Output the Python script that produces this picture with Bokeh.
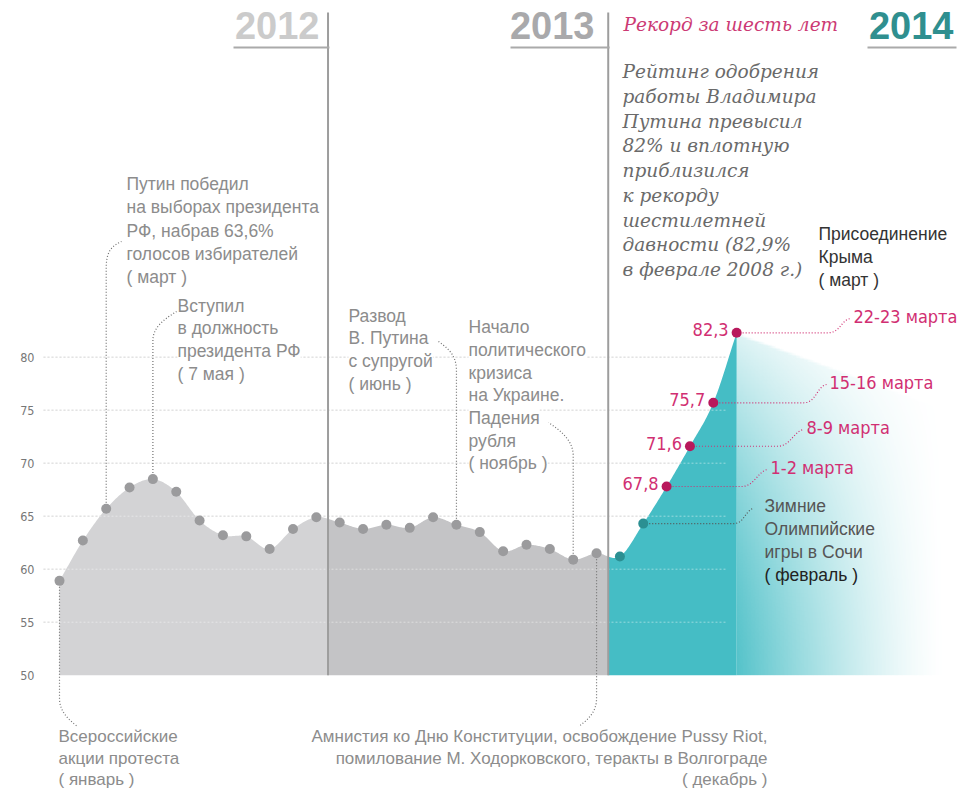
import numpy as np
from bokeh.plotting import figure
from bokeh.models import Range1d, FixedTicker, ColumnDataSource
from bokeh.core.properties import value
from bokeh.embed import file_html
from bokeh.resources import INLINE

# ---------------- data ----------------
months = ["янв", "фев", "мар", "апр", "май", "июн", "июл", "авг", "сен", "окт", "ноя", "дек"]
rating_2012 = [58.9, 62.7, 65.7, 67.7, 68.5, 67.3, 64.6, 63.2, 63.1, 61.9, 63.8, 64.9]
rating_2013 = [64.4, 63.8, 64.2, 63.9, 64.9, 64.2, 63.5, 61.7, 62.3, 61.9, 60.9, 61.5]
months_2014 = ["янв", "фев"]
rating_2014 = [61.2, 64.3]
march_weeks = ["1-2 марта", "8-9 марта", "15-16 марта", "22-23 марта"]
rating_march = [67.8, 71.6, 75.7, 82.3]
march_labels = ["67,8", "71,6", "75,7", "82,3"]
y_ticks = [50, 55, 60, 65, 70, 75, 80]
years = ["2012", "2013", "2014"]

values = rating_2012 + rating_2013 + rating_2014 + rating_march
idx = np.arange(len(values), dtype=float)
n12, n13 = len(rating_2012), len(rating_2013)
b1 = n12 - 0.5               # 2012 | 2013 divider
b2 = n12 + n13 - 0.5         # 2013 | 2014 divider
i_feb = n12 + n13 + 1
i_last = len(values) - 1
base = y_ticks[0]

# ---------------- pixel <-> data helpers (layout only) ----------------
PX0, DX, PY80, DY = 59.0, 23.35, 356.7, 10.6
def X(px): return (np.asarray(px, float) - PX0) / DX
def Y(py): return 80 - (np.asarray(py, float) - PY80) / DY
def PX(i): return PX0 + DX * i
def PY(v): return PY80 + (80 - v) * DY

FW, FH = 957, 792
p = figure(width=FW, height=FH, output_backend="svg", toolbar_location=None,
           x_range=Range1d(float(X(40)), float(X(FW))),
           y_range=Range1d(float(Y(FH)), float(Y(0))),
           x_axis_type=None, min_border_left=40, min_border_right=0,
           min_border_top=0, min_border_bottom=0)
p.outline_line_color = None
p.ygrid.visible = False
COND = "DejaVu Sans Condensed"
p.yaxis.ticker = FixedTicker(ticks=y_ticks)
p.yaxis.axis_line_color = None
p.yaxis.major_tick_line_color = None
p.yaxis.minor_tick_line_color = None
p.yaxis.major_tick_out = 0
p.yaxis.major_label_standoff = 6
p.yaxis.major_label_text_font = COND
p.yaxis.major_label_text_font_size = "12.5px"
p.yaxis.major_label_text_color = "#777777"

# grid (under areas)
gt = y_ticks[1:]
p.segment(x0=[float(X(43))] * len(gt), x1=[float(X(727))] * len(gt), y0=gt, y1=gt,
          line_color="#c6c6c6", line_dash="2 2", line_width=1)

# ---------------- smooth area ----------------
def smooth(xs, ys, n=24):
    xs = np.asarray(xs, float); ys = np.asarray(ys, float)
    m = np.zeros_like(ys)
    m[1:-1] = (ys[2:] - ys[:-2]) / 2
    m[0] = ys[1] - ys[0]; m[-1] = ys[-1] - ys[-2]
    ox, oy = [], []
    t = np.linspace(0, 1, n, endpoint=False)
    h00 = 2*t**3 - 3*t**2 + 1; h10 = t**3 - 2*t**2 + t
    h01 = -2*t**3 + 3*t**2; h11 = t**3 - t**2
    for i in range(len(xs) - 1):
        oy.append(h00*ys[i] + h10*m[i] + h01*ys[i+1] + h11*m[i+1])
        ox.append(xs[i] + t*(xs[i+1] - xs[i]))
    ox.append([xs[-1]]); oy.append([ys[-1]])
    return np.concatenate(ox), np.concatenate(oy)

sx, sy = smooth(idx, values)
def piece(a, b):
    mk = (sx > a) & (sx < b)
    xs = np.concatenate([[a], sx[mk], [b]])
    ys = np.concatenate([[np.interp(a, sx, sy)], sy[mk], [np.interp(b, sx, sy)]])
    return xs, ys

for (a, b), col in [((0, b1), "#d3d3d5"), ((b1, b2), "#c4c4c6"), ((b2, i_last), "#45bdc5")]:
    xs, ys = piece(a, b)
    p.varea(x=xs, y1=[base] * len(xs), y2=ys, fill_color=col)

# fading tail after the last value
fx0, fx1 = float(i_last), float(X(945))
fy0, fy1 = float(base), 84.0
W, H = 260, 260
xi = fx0 + (np.arange(W) + 0.5) / W * (fx1 - fx0)
vi = fy0 + (np.arange(H) + 0.5) / H * (fy1 - fy0)
top = values[-1] - 0.8 * (xi - fx0)
XX, VV = np.meshgrid(xi, vi)
TT = np.broadcast_to(top, XX.shape)
ax = 0.92 * (1 - (XX - fx0) / (fx1 - fx0)) ** 1.4
rel = np.clip((VV - base) / (TT - base), 0, 1)
av = 1 - 0.8 * rel ** 1.6
edge = np.clip((TT - VV) / 0.3, 0, 1)
alpha = ax * av * edge
img = np.zeros((H, W), dtype=np.uint32)
view = img.view(dtype=np.uint8).reshape((H, W, 4))
view[..., 0] = 69; view[..., 1] = 189; view[..., 2] = 197
view[..., 3] = (np.clip(alpha, 0, 1) * 255).astype(np.uint8)
p.image_rgba(image=[img], x=fx0, y=fy0, dw=fx1 - fx0, dh=fy1 - fy0)

# grid over fills (lighter)
p.segment(x0=[float(X(43))] * len(gt), x1=[float(X(727))] * len(gt), y0=gt, y1=gt,
          line_color="white", line_alpha=0.45, line_dash="2 2", line_width=1)

# year dividers and underlines
p.segment(x0=[b1, b2], x1=[b1, b2], y0=[base, base], y1=[float(Y(12))] * 2,
          line_color="#9d9d9d", line_width=2)
p.segment(x0=[float(X(233)), float(X(510)), float(X(867))],
          x1=[b1 + 0.06, b2 + 0.06, float(X(956))],
          y0=[float(Y(47))] * 3, y1=[float(Y(47))] * 3,
          line_color="#aaaaaa", line_width=2)

# ---------------- leaders ----------------
def bez(p0, p1, p2, p3, n=30):
    t = np.linspace(0, 1, n)[:, None]
    P = [np.array(q, float) for q in (p0, p1, p2, p3)]
    return (1-t)**3*P[0] + 3*(1-t)**2*t*P[1] + 3*(1-t)*t**2*P[2] + t**3*P[3]

def leader(i, corner, c1, c2, end, color="#707070"):
    start = np.array([[PX(i), PY(values[i])]])
    pts = np.vstack([start, bez(corner, c1, c2, end)])
    p.line(X(pts[:, 0]), Y(pts[:, 1]), line_color=color, line_dash="1 2", line_width=1.2)

leader(2, (PX(2), 268), (PX(2), 252), (110, 246), (121, 241))
leader(4, (PX(4), 340), (PX(4), 326), (165, 318), (176, 311))
leader(17, (PX(17), 370), (PX(17), 355), (448, 348), (438, 341))
leader(22, (PX(22), 455), (PX(22), 440), (560, 430), (548, 422))
leader(0, (PX(0), 698), (PX(0), 711), (68, 719), (77, 726))
leader(n12 + n13 - 1, (PX(23), 698), (PX(23), 711), (588, 719), (578, 726))
leader(i_feb, (733, PY(values[i_feb])), (743, PY(values[i_feb])), (744, 512), (752, 508), "#555555")

pink_ends = [(767, 469), (803, 429), (826, 384), (850, 318)]
pink_corners = [741, 777, 803, 827]
for k, (ex, ey) in enumerate(pink_ends):
    i = i_last - 3 + k
    py = PY(values[i])
    leader(i, (pink_corners[k], py), (pink_corners[k] + 13, py), (ex - 10, ey + 2), (ex, ey), "#d12f72")

# ---------------- dots ----------------
gi = list(range(n12 + n13))
p.scatter(idx[gi], [values[i] for i in gi], size=10, fill_color="#9b9b9d", line_color=None)
ti = [n12 + n13, i_feb]
p.scatter(idx[ti], [values[i] for i in ti], size=10, fill_color="#2b8f92", line_color=None)
mi = list(range(i_last - 3, i_last + 1))
p.scatter(idx[mi], rating_march, size=10, fill_color="#b8185c", line_color=None)

# ---------------- texts ----------------
SANS = "Liberation Sans"
def lines(txts, px, py0, dy, color="#8c8c8c", size="17.5px", font=SANS, align="left",
          style="normal", bg=True):
    ys = [float(Y(py0 + k * dy)) for k in range(len(txts))]
    src = ColumnDataSource(dict(x=[float(X(px))] * len(txts), y=ys, text=txts))
    p.text("x", "y", "text", source=src, text_font=value(font), text_font_size=size,
           text_color=color, text_align=align, text_baseline="middle",
           text_font_style=style, background_fill_color="white" if bg else None)

lines(["Путин победил", "на выборах президента", "РФ, набрав 63,6%",
       "голосов избирателей", "( март )"], 126, 183.3, 23.35)
lines(["Вступил", "в должность", "президента РФ", "( 7 мая )"], 177, 305, 22.8)
lines(["Развод", "В. Путина", "с супругой", "( июнь )"], 348, 315, 22.8)
lines(["Начало", "политического", "кризиса", "на Украине.", "Падения", "рубля",
       "( ноябрь )"], 468, 326.7, 22.7)
lines(["Всероссийские", "акции протеста", "( январь )"], 58, 736, 21.5, size="17px")
lines(["Амнистия ко Дню Конституции, освобождение Pussy Riot,",
       "помилование М. Ходорковского, теракты в Волгограде", "( декабрь )"],
      767, 736, 21.5, align="right", size="17px")
lines(["Зимние", "Олимпийские", "игры в Сочи"], 764, 505, 23, color="#555555", bg=False)
lines(["( февраль )"], 764, 574, 23, color="#222222", bg=False)
lines(["Присоединение", "Крыма", "( март )"], 818, 233.3, 23, color="#333333", bg=False)
lines(["Рейтинг одобрения", "работы Владимира", "Путина превысил", "82%  и вплотную",
       "приблизился", "к рекорду", "шестилетней", "давности (82,9%",
       "в феврале 2008 г.)"], 622, 71, 24.75, color="#6a6a6a", size="18.5px",
      font="DejaVu Serif", style="italic", bg=False)
lines(["Рекорд за шесть лет"], 623, 24, 0, color="#cc3a74", size="18.5px",
      font="DejaVu Serif", style="italic", bg=False)

# years
ysrc = ColumnDataSource(dict(x=[float(X(319)), float(X(594)), float(X(953))],
                             y=[float(Y(25))] * 3, text=years,
                             c=["#cbcbcb", "#a9a9ab", "#2f8f8f"]))
p.text("x", "y", "text", source=ysrc, text_font=value(SANS), text_font_size="38px",
       text_font_style="bold", text_color="c", text_align="right",
       text_baseline="middle")

# march values and dates
msrc = ColumnDataSource(dict(x=idx[mi], y=rating_march, text=march_labels))
p.text("x", "y", "text", source=msrc, text_font=value(COND), text_font_size="18px",
       text_color="#d12f72", text_align="right", text_baseline="middle",
       x_offset=-8, y_offset=-3)
dsrc = ColumnDataSource(dict(x=[float(X(e[0] + 3)) for e in pink_ends],
                             y=[float(Y(e[1] - 2)) for e in pink_ends], text=march_weeks))
p.text("x", "y", "text", source=dsrc, text_font=value(COND), text_font_size="18px",
       text_color="#d12f72", text_align="left", text_baseline="middle")

open("out.html", "w").write(file_html(p, INLINE))
